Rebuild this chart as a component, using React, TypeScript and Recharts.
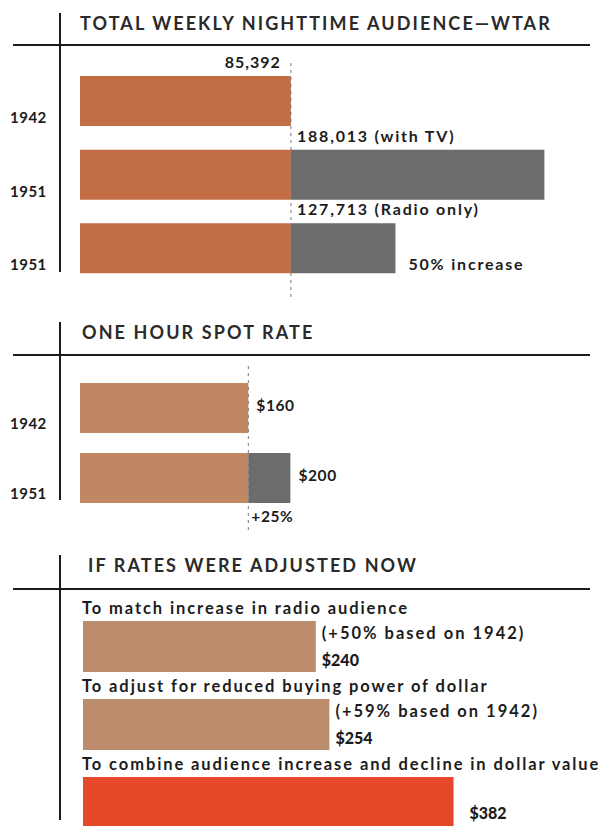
import React from 'react';
import { BarChart, Bar, XAxis, YAxis, ReferenceLine, LabelList, Cell } from 'recharts';

// total weekly nighttime audience
const audienceYears = ['1942', '1951', '1951'];
const audienceBase = [85392, 85392, 85392];
const audienceTotals = [85392, 188013, 127713];
const audienceCaptions = ['85,392', '188,013 (with TV)', '127,713 (Radio only)'];
const audienceRemarks = ['', '', '50% increase'];

// one hour spot rate
const rateYears = ['1942', '1951'];
const rateBase = [160, 160];
const rateTotals = [160, 200];
const rateLabels = ['$160', '$200'];
const rateRemarks = ['', '+25%'];

// adjusted rates
const adjustValues = [240, 254, 382];
const adjustTitles = [
  'To match increase in radio audience',
  'To adjust for reduced buying power of dollar',
  'To combine audience increase and decline in dollar value',
];
const adjustNotes = ['(+50% based on 1942)', '(+59% based on 1942)', ''];
const adjustLabels = ['$240', '$254', '$382'];

const FONT = 'Lato, "Open Sans", sans-serif';
const INK = '#1c1c1c';
const BROWN = '#c36d46';
const TAN = '#c08762';
const TAN_LIGHT = '#bb8d6c';
const RED = '#e6492a';
const GREY = '#6c6c6c';

const audienceData = audienceYears.map((year, i) => ({
  year,
  base: audienceBase[i],
  gain: audienceTotals[i] - audienceBase[i],
}));

const rateData = rateYears.map((year, i) => ({
  year,
  base: rateBase[i],
  gain: rateTotals[i] - rateBase[i],
}));

const adjustData = adjustValues.map((value, i) => ({ name: `row${i}`, value }));

const textStyle = { fontFamily: FONT, fill: INK };

function YearTick(offset: number) {
  return (props: any) => {
    const { y, payload } = props;
    return (
      <text x={10} y={y + offset} style={textStyle} fontSize={15} fontWeight={700} letterSpacing={0.5}>
        {payload.value}
      </text>
    );
  };
}

function Frame({ top, lineY, bottom, title, titleX }: { top: number; lineY: number; bottom: number; title: string; titleX: number }) {
  return (
    <>
      <div style={{ position: 'absolute', left: 59, top, width: 2, height: bottom - top, background: INK }} />
      <div style={{ position: 'absolute', left: 13, top: lineY - 1, width: 577, height: 2, background: INK }} />
      <div
        style={{
          position: 'absolute',
          left: titleX,
          top: top - 2,
          fontFamily: FONT,
          fontSize: 18,
          fontWeight: 700,
          letterSpacing: 2.1,
          color: '#2a2a2a',
          lineHeight: '24px',
          whiteSpace: 'nowrap',
        }}
      >
        {title}
      </div>
    </>
  );
}

export default function App() {
  // all panel-1 texts hang off the base bar; the bar's own width gives the px-per-unit scale
  const audienceLabel = (props: any) => {
    const { x, y, width, height, index } = props;
    const perUnit = width / audienceBase[index];
    const hasGain = audienceTotals[index] > audienceBase[index];
    const totalEnd = x + audienceTotals[index] * perUnit;
    return (
      <g style={textStyle} fontSize={16} fontWeight={700}>
        <text
          x={hasGain ? x + width + 6 : x + width - 10}
          y={y - 8}
          textAnchor={hasGain ? 'start' : 'end'}
          letterSpacing={hasGain ? 1.8 : 1}
        >
          {audienceCaptions[index]}
        </text>
        {audienceRemarks[index] && (
          <text x={totalEnd + 13} y={y + height - 3} letterSpacing={1.8}>
            {audienceRemarks[index]}
          </text>
        )}
      </g>
    );
  };

  const rateLabel = (props: any) => {
    const { x, y, width, height, index } = props;
    const perUnit = width / rateBase[index];
    const totalEnd = x + rateTotals[index] * perUnit;
    return (
      <g style={textStyle} fontSize={15.5} fontWeight={700} letterSpacing={0.6}>
        <text x={totalEnd + 8} y={y + height / 2 + 3}>
          {rateLabels[index]}
        </text>
        {rateRemarks[index] && (
          <text x={x + width + 3} y={y + height + 19}>
            {rateRemarks[index]}
          </text>
        )}
      </g>
    );
  };

  const adjustLabel = (props: any) => {
    const { x, y, width, height, index } = props;
    const note = adjustNotes[index];
    return (
      <g style={textStyle} fontSize={16.5} fontWeight={700}>
        <text x={x - 1} y={y - 7} letterSpacing={1.9}>
          {adjustTitles[index]}
        </text>
        {note && (
          <text x={x + width + 6} y={y + 18} letterSpacing={2}>
            {note}
          </text>
        )}
        <text
          x={x + width + (note ? 6 : 16)}
          y={note ? y + height - 6 : y + 42}
          fontSize={16}
          fontWeight={900}
        >
          {adjustLabels[index]}
        </text>
      </g>
    );
  };

  return (
    <div style={{ position: 'relative', width: 604, height: 826, overflow: 'hidden', background: '#fff' }}>
      <style>{'body{margin:0}'}</style>

      <Frame top={13} lineY={45} bottom={272} titleX={80} title="TOTAL WEEKLY NIGHTTIME AUDIENCE—WTAR" />
      <div style={{ position: 'absolute', left: 0, top: 0 }}>
        <BarChart
          width={604}
          height={300}
          data={audienceData}
          layout="vertical"
          barSize={50}
          margin={{ top: 60, right: 30, bottom: 3, left: 10 }}
        >
          <XAxis type="number" domain={[0, 200000]} hide />
          <YAxis
            type="category"
            dataKey="year"
            width={70}
            axisLine={false}
            tickLine={false}
            padding={{ top: 4, bottom: 12 }}
            tick={YearTick(22)}
          />
          <Bar dataKey="base" stackId="a" fill={BROWN} isAnimationActive={false}>
            <LabelList content={audienceLabel} />
          </Bar>
          <Bar dataKey="gain" stackId="a" fill={GREY} isAnimationActive={false} />
          <ReferenceLine x={audienceBase[0]} stroke="#777" strokeDasharray="3 4" />
        </BarChart>
      </div>

      <Frame top={322} lineY={355} bottom={500} titleX={82} title="ONE HOUR SPOT RATE" />
      <div style={{ position: 'absolute', left: 0, top: 300 }}>
        <BarChart
          width={604}
          height={240}
          data={rateData}
          layout="vertical"
          barSize={50}
          margin={{ top: 65, right: 261, bottom: 10, left: 10 }}
        >
          <XAxis type="number" domain={[0, 250]} hide />
          <YAxis
            type="category"
            dataKey="year"
            width={70}
            axisLine={false}
            tickLine={false}
            padding={{ top: 8, bottom: 17 }}
            tick={YearTick(21)}
          />
          <Bar dataKey="base" stackId="a" fill={TAN} isAnimationActive={false}>
            <LabelList content={rateLabel} />
          </Bar>
          <Bar dataKey="gain" stackId="a" fill={GREY} isAnimationActive={false} />
          <ReferenceLine x={rateBase[0]} stroke="#777" strokeDasharray="3 4" />
        </BarChart>
      </div>

      <Frame top={555} lineY={589} bottom={820} titleX={88} title="IF RATES WERE ADJUSTED NOW" />
      <div style={{ position: 'absolute', left: 0, top: 590 }}>
        <BarChart
          width={604}
          height={255}
          data={adjustData}
          layout="vertical"
          barSize={51}
          margin={{ top: 17, right: 133, bottom: 4, left: 83 }}
        >
          <XAxis type="number" domain={[0, 400]} hide />
          <YAxis type="category" dataKey="name" hide />
          <Bar dataKey="value" isAnimationActive={false}>
            {adjustData.map((d, i) => (
              <Cell key={d.name} fill={i === 2 ? RED : TAN_LIGHT} />
            ))}
            <LabelList content={adjustLabel} />
          </Bar>
        </BarChart>
      </div>
    </div>
  );
}
